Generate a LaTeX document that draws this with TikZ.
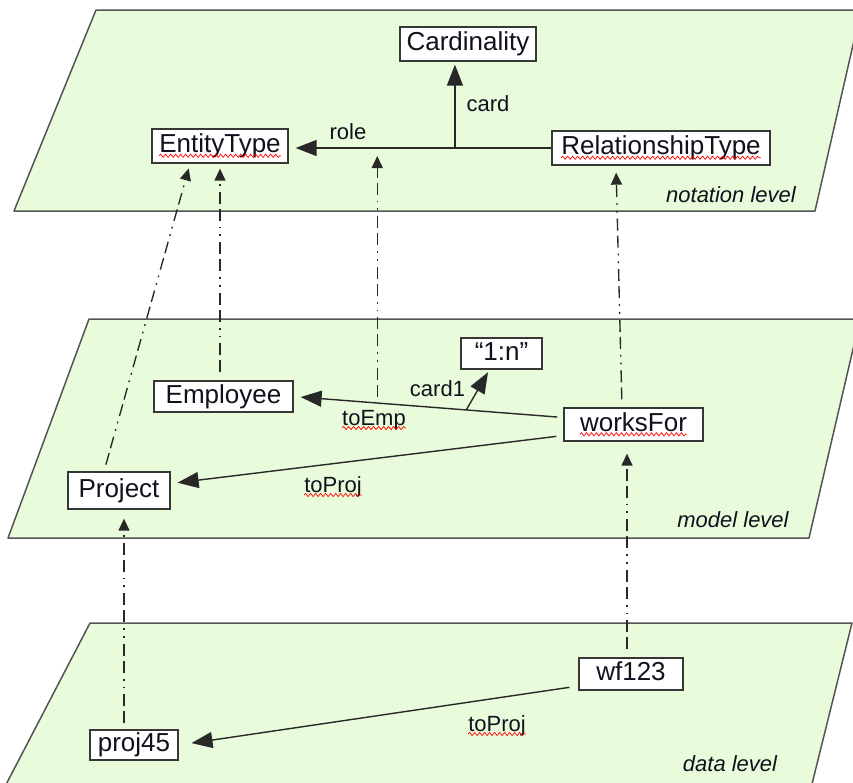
\documentclass[tikz,border=0pt]{standalone}
\usepackage{fontspec}
\setmainfont{Liberation Sans}
\usetikzlibrary{arrows.meta,decorations.pathmorphing}
\definecolor{planefill}{RGB}{232,251,218}
\definecolor{planeline}{RGB}{85,85,85}
\definecolor{boxline}{RGB}{55,55,55}
\definecolor{linecol}{RGB}{40,40,40}
\definecolor{txt}{RGB}{17,17,30}
\begin{document}
\begin{tikzpicture}[x=1pt,y=-1pt,
  plane/.style={fill=planefill, draw=planeline, line width=1.5pt, line join=round},
  boxfont/.style={inner sep=0pt, text=txt, font=\fontsize{26}{30}\selectfont,
    text height=19pt, text depth=5.5pt},
  box/.style={boxfont, draw=boxline, fill=white, line width=1.3pt},
  span/.style={boxfont},
  lbl/.style={inner sep=0pt, anchor=base, text=txt, font=\fontsize{22}{26}\selectfont},
  lvl/.style={lbl, font=\fontsize{22}{26}\selectfont\itshape},
  conn/.style={draw=linecol, line width=1.4pt, -{Triangle[length=21pt,width=16pt]}},
  inst/.style={draw=linecol, line width=1.35pt,
    dash pattern=on 12pt off 5pt on 12pt off 6pt on 1.8pt off 6pt on 1.8pt off 6pt,
    -{Triangle[length=12pt,width=11pt]}},
  spell/.style={draw=red, line width=0.7pt,
    decorate, decoration={snake, amplitude=1.6pt, segment length=5pt}}]
\useasboundingbox (0,0) rectangle (853,782);
\clip (0,0) rectangle (853,782);

% the three levels
\draw[plane] (96,10) -- (861,10) -- (815,211) -- (14,211) -- cycle;
\draw[plane] (89,319) -- (860,319) -- (809,538) -- (8,538) -- cycle;
\draw[plane] (90,623) -- (852,623) -- (808,800) -- (-2,800) -- cycle;

% notation level
\node[box, minimum width=136pt, minimum height=34pt] (Card) at (468,44) {Cardinality};
\node[box, minimum width=136pt, minimum height=34pt] (ET) at (220,146) {EntityType};
\node[box, minimum width=218pt, minimum height=34pt] (RT) at (661,148) {RelationshipType};
\node[lvl] (nlev) at (731,202) {notation level};

% model level
\node[box, minimum width=81pt, minimum height=31pt] (ONE) at (501.5,353.5) {“1:n”};
\node[box, minimum width=139pt, minimum height=31pt] (EMP) at (223.5,396.5) {Employee};
\node[box, minimum width=139pt, minimum height=33pt] (WF) at (633.5,424.5) {worksFor};
\node[box, minimum width=102pt, minimum height=37pt] (PRJ) at (119,490.5) {Project};
\node[lvl] (mlev) at (733,527) {model level};

% data level
\node[box, minimum width=104pt, minimum height=32pt] (WF1) at (631,674) {wf123};
\node[box, minimum width=88pt, minimum height=30pt] (P45) at (134,745) {proj45};
\node[lvl] (dlev) at (730,771) {data level};

% notation level connectors
\draw[conn, shorten >=7pt] (RT.west) -- (RT.west -| ET.east)
  coordinate[pos=0.367] (J) coordinate[pos=0.667] (R);
\draw[conn, shorten >=3pt] (J) -- (J |- Card.south);
\node[lbl] (roleL) at (348,139) {role};
\node[lbl] (cardL) at (488,111) {card};

% model level connectors
\draw[conn, shorten <=6pt, shorten >=7pt] ([yshift=7pt]WF.west) -- (EMP.east)
  coordinate[pos=0.36] (c1) coordinate[pos=0.69] (te);
\draw[conn, shorten >=3pt] (c1) -- ([xshift=-12pt]ONE.south);
\draw[conn, shorten <=7pt, shorten >=7pt] ([yshift=-11pt]WF.west) -- ([yshift=7pt]PRJ.east);
\node[lbl] (toEmpL) at (374,425) {toEmp};
\node[lbl] (card1L) at (437.5,396) {card1};
\node[lbl] (toProjL) at (333,492) {toProj};

% data level connector
\draw[conn, shorten <=9pt, shorten >=13pt] ([yshift=-12pt]WF1.west) -- (P45.east);
\node[lbl] (toProjD) at (497,731) {toProj};

% instance-of links between levels
\draw[inst, shorten <=7pt, shorten >=5pt] ([xshift=-15pt]PRJ.north) -- ([xshift=-30pt]ET.south);
\draw[inst, shorten <=8pt, shorten >=5pt] ([xshift=-3.5pt]EMP.north) -- (ET.south);
\draw[inst, shorten <=6pt, shorten >=8pt] (te) -- (te |- R);
\draw[inst, shorten <=8pt, shorten >=7pt] ([xshift=-11.5pt]WF.north) -- ([xshift=-45pt]RT.south);
\draw[inst, shorten <=8pt, shorten >=12pt] ([xshift=-4pt]WF1.north) -- ([xshift=-6.5pt]WF.south);
\draw[inst, shorten <=6pt, shorten >=9pt] ([xshift=-10pt]P45.north) -- ([xshift=5pt]PRJ.south);

% spell-checker underlines: invisible spans give the extent of each flagged word
\node[span] (ETs) at (ET.center) {\phantom{EntityType}};
\node[span] (RTs) at (RT.center) {\phantom{RelationshipType}};
\node[span] (WFs) at (WF.center) {\phantom{worksFor}};
\foreach \w in {ETs,RTs,WFs,toEmpL,toProjL,toProjD}
  \draw[spell] ([yshift=-3pt]\w.base west) -- ([yshift=-3pt]\w.base east);
\end{tikzpicture}
\end{document}
